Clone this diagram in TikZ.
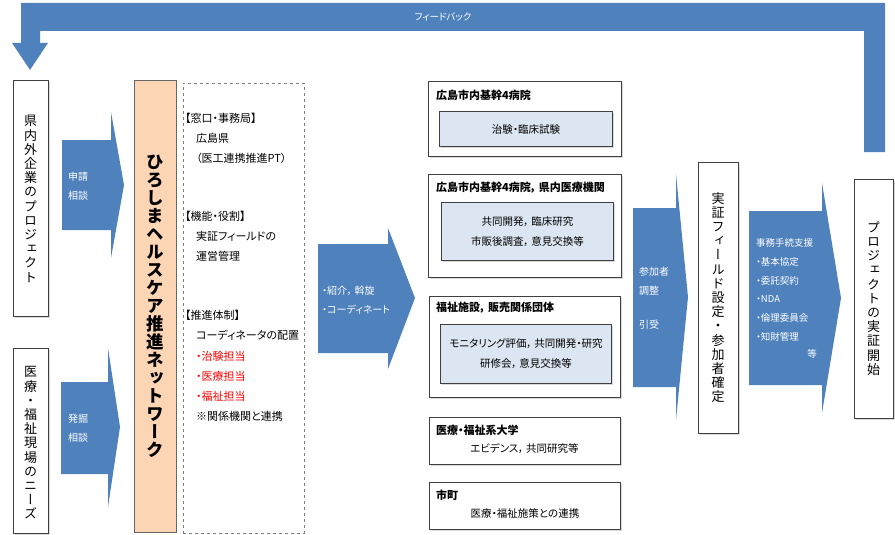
\documentclass[tikz,border=0pt]{standalone}
\usepackage{fontspec}
\setmainfont{Noto Sans CJK JP}[RawFeature=+palt]
\newfontfamily\vjp[RawFeature=+vert]{Noto Sans CJK JP}
\usetikzlibrary{shadows}
\definecolor{ablue}{HTML}{4F81BD}
\definecolor{peach}{HTML}{FCD5B5}
\definecolor{lblue}{HTML}{DCE6F2}
\definecolor{bdr}{HTML}{404040}
\definecolor{jred}{HTML}{FF0000}
\newcommand{\jcm}{，\hspace{2.5pt}}
\tikzset{
  box/.style={draw=bdr, line width=1.1pt, fill=white, inner sep=0pt, anchor=north west,
    drop shadow={shadow xshift=1.3pt, shadow yshift=-1.3pt, opacity=0.3}},
  inbox/.style={box, fill=lblue},
  netbox/.style={draw=gray!80!black, line width=1.1pt, fill=peach, inner sep=0pt, anchor=north west},
  dashbox/.style={draw=gray, dashed, line width=0.6pt, inner sep=0pt, anchor=north west},
  barrow/.style={fill=ablue, draw=none},
  vtxt/.style={align=center, inner sep=0pt, font=\vjp\fontsize{13}{14.2}\selectfont},
  ltxt/.style={align=left, anchor=west, inner sep=0pt, font=\fontsize{11}{20.2}\selectfont},
  ttl/.style={anchor=west, inner sep=0pt, font=\bfseries\fontsize{11}{13}\selectfont},
  ctxt/.style={align=center, inner sep=0pt, font=\fontsize{10.5}{20}\selectfont},
  wtxt/.style={align=left, anchor=west, inner sep=0pt, text=white, font=\fontsize{10}{19}\selectfont},
}
\begin{document}
\begin{tikzpicture}[x=1pt,y=-1pt]
\useasboundingbox (0,0) rectangle (895,535);
% feedback arrow
\fill[ablue] (885,3) -- (885,152) -- (864,152) -- (864,31) -- (40,31) -- (40,43) -- (48,43)
  -- (30,70) -- (12,43) -- (21,43) -- (21,3) -- cycle;
\node[inner sep=0pt, text=white, font=\fontsize{9.5}{10}\selectfont] (fb) at (443,17) {フィードバック};
% left boxes
\node[box, minimum width=35pt, minimum height=236pt] (b1) at (13,80) {};
\node[vtxt] (b1t) at (30.5,199) {県\\内\\外\\企\\業\\の\\プ\\ロ\\ジ\\ェ\\ク\\ト};
\node[box, minimum width=35pt, minimum height=185pt] (b2) at (13,348) {};
\node[vtxt] (b2t) at (30.5,443) {医\\療\\・\\福\\祉\\現\\場\\の\\ニ\\ー\\ズ};
% arrows left
\fill[barrow] (62,140) -- (111,140) -- (111,112) -- (124,185) -- (111,258) -- (111,230) -- (62,230) -- cycle;
\node[wtxt] (a1t) at (68,186) {申請\\相談};
\fill[barrow] (61,382) -- (108,382) -- (108,348) -- (120,427) -- (108,507) -- (108,474) -- (61,474) -- cycle;
\node[wtxt] (a2t) at (68,428) {発掘\\相談};
% network box
\node[netbox, minimum width=42pt, minimum height=452pt] (net) at (134,80) {};
\node[vtxt, font=\vjp\bfseries\fontsize{17.5}{18}\selectfont] (nett) at (155,306)
  {ひ\\ろ\\し\\ま\\ヘ\\ル\\ス\\ケ\\ア\\推\\進\\ネ\\ッ\\ト\\ワ\\ー\\ク};
% dashed box
\node[dashbox, minimum width=121pt, minimum height=450pt] (dash) at (183,83) {};
\node[ltxt] (d1) at (185,138.5) {【窓口・事務局】\\\hspace*{11pt}広島県\\\hspace*{11pt}（医工連携推進PT）};
\node[ltxt] (d2) at (185,236) {【機能・役割】\\\hspace*{11pt}実証フィールドの\\\hspace*{11pt}運営管理};
\node[ltxt] (d3) at (185,366) {【推進体制】\\\hspace*{11pt}コーディネータの配置\\\hspace*{11pt}\textcolor{jred}{・治験担当}\\\hspace*{11pt}\textcolor{jred}{・医療担当}\\\hspace*{11pt}\textcolor{jred}{・福祉担当}\\\hspace*{11pt}※関係機関と連携};
% middle arrow
\fill[barrow] (318,244) -- (388,244) -- (388,228) -- (415,298) -- (388,369) -- (388,353) -- (318,353) -- cycle;
\node[wtxt] (a3t) at (322,300) {・紹介\jcm 斡旋\\・コーディネート};
% right column
\node[box, minimum width=193pt, minimum height=75pt] (hA) at (428,81) {};
\node[ttl] (hAt) at (436,95) {広島市内基幹4病院};
\node[inbox, minimum width=173pt, minimum height=35pt] (hAi) at (439,111) {};
\node[ctxt] (hAit) at (hAi.center) {治験・臨床試験};
\node[box, minimum width=193pt, minimum height=103pt] (hB) at (428,174) {};
\node[ttl] (hBt) at (436,188) {広島市内基幹4病院\jcm 県内医療機関};
\node[inbox, minimum width=172pt, minimum height=58pt] (hBi) at (441,202) {};
\node[ctxt] (hBit) at (hBi.center) {共同開発\jcm 臨床研究\\市販後調査\jcm 意見交換等};
\node[box, minimum width=191pt, minimum height=101pt] (hC) at (429,296) {};
\node[ttl] (hCt) at (436,308) {福祉施設\jcm 販売関係団体};
\node[inbox, minimum width=171pt, minimum height=59pt] (hCi) at (440,324) {};
\node[ctxt] (hCit) at (hCi.center) {モニタリング評価\jcm 共同開発・研究\\研修会\jcm 意見交換等};
\node[box, minimum width=191pt, minimum height=47pt] (hD) at (429,417) {};
\node[ttl] (hDt) at (436,430) {医療・福祉系大学};
\node[ctxt] (hDx) at (524.5,449) {エビデンス\jcm 共同研究等};
\node[box, minimum width=191pt, minimum height=47pt] (hE) at (429,482) {};
\node[ttl] (hEt) at (436,495) {市町};
\node[ctxt] (hEx) at (525,514) {医療・福祉施策との連携};
% arrow 4
\fill[barrow] (633,208) -- (676,208) -- (676,174) -- (688,297) -- (676,420) -- (676,387) -- (633,387) -- cycle;
\node[wtxt] (a4t) at (639,281.5) {参加者\\調整};
\node[wtxt] (a4u) at (639,325) {引受};
% field box
\node[box, minimum width=40pt, minimum height=271pt] (field) at (698,162) {};
\node[vtxt] (fieldt) at (718,297.5) {実\\証\\フ\\ィ\\ー\\ル\\ド\\設\\定\\・\\参\\加\\者\\確\\定};
% arrow 5
\fill[barrow] (749,211) -- (822,211) -- (822,183) -- (841,298) -- (822,413) -- (822,385) -- (749,385) -- cycle;
\node[wtxt, font=\fontsize{9.5}{18.7}\selectfont] (a5t) at (756,290) {事務手続支援\\・基本協定\\・委託契約\\・NDA\\・倫理委員会\\・知財管理};
\node[wtxt, anchor=center, font=\fontsize{9.5}{10}\selectfont] (a5u) at (812,354) {等};
% start box
\node[box, minimum width=39pt, minimum height=239pt] (start) at (854,179) {};
\node[vtxt] (startt) at (873.5,298.5) {プ\\ロ\\ジ\\ェ\\ク\\ト\\の\\実\\証\\開\\始};
\end{tikzpicture}
\end{document}
